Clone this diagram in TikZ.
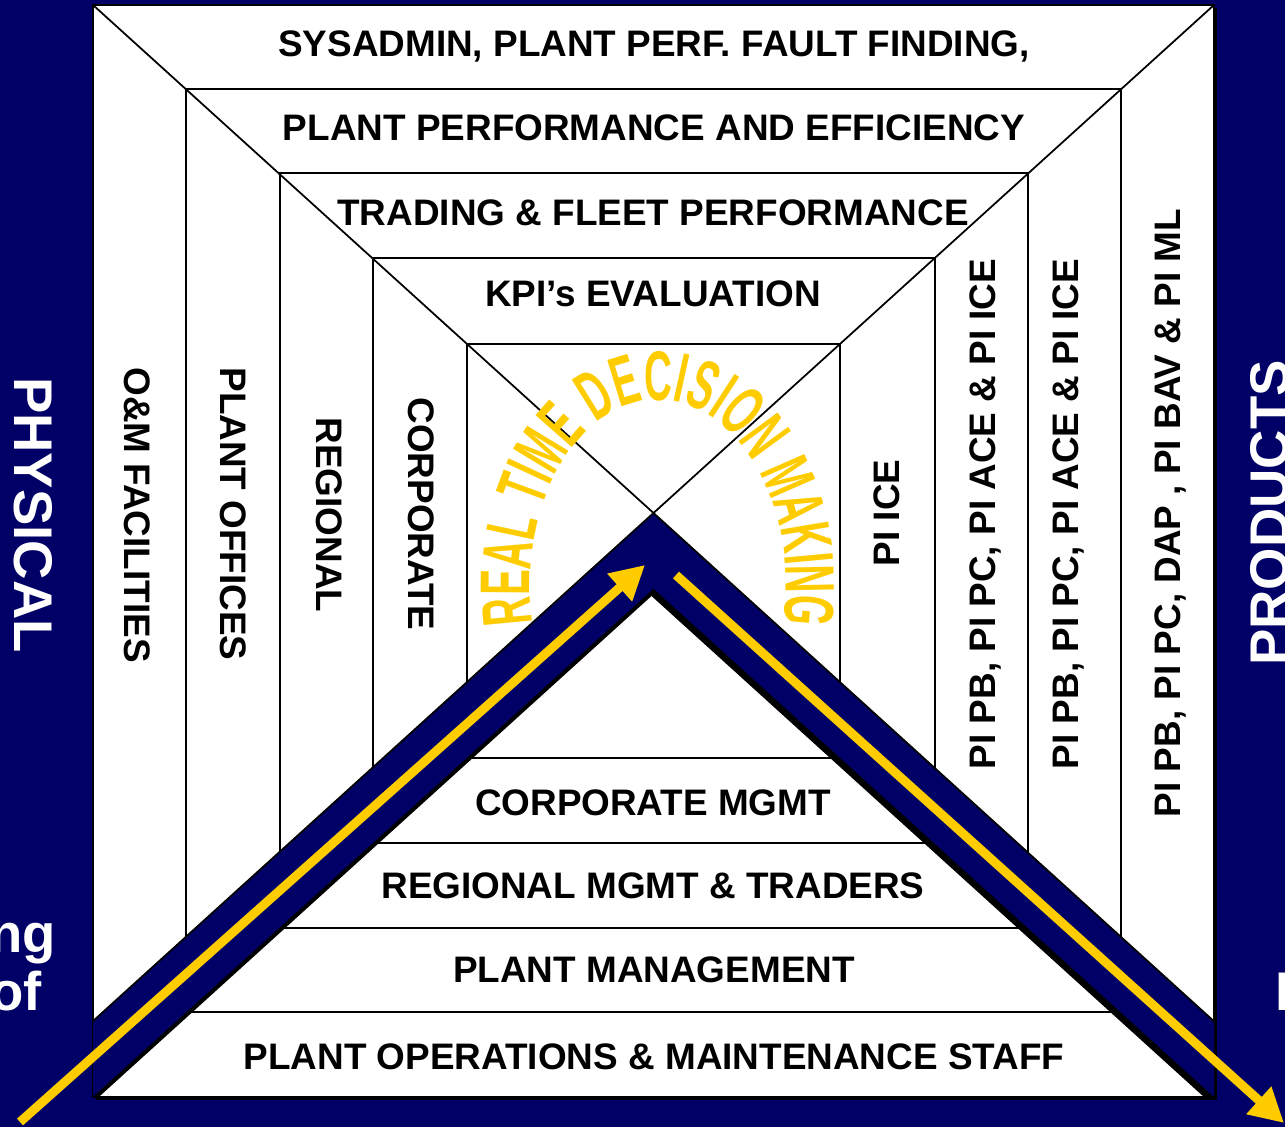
\documentclass[tikz,border=0pt]{standalone}
\usepackage{fontspec}
\setmainfont{Liberation Sans}
\newfontfamily\archfont[FakeStretch=0.55]{Liberation Sans}
\usetikzlibrary{arrows.meta, decorations.text}
\definecolor{navy}{RGB}{0,0,102}
\definecolor{gold}{RGB}{255,204,0}

\begin{document}
\begin{tikzpicture}[x=0.02cm, y=0.02cm]

    % Define styles
    \tikzstyle{frame} = [draw=black, line width=1pt, fill=white]
    \tikzstyle{band} = [font=\bfseries\fontsize{21}{24}\selectfont, text=black, inner sep=0pt]
    \tikzstyle{side} = [font=\bfseries\fontsize{31}{34}\selectfont, text=white, inner sep=0pt]
    \tikzstyle{flow} = [draw=gold, line width=0.18cm, -{Triangle[length=0.68cm, width=0.7cm]}]

    \useasboundingbox (0,0) rectangle (1285,1127);
    \fill[navy] (0,0) rectangle (1285,1127);

    % Nested frames
    \fill[black] (96,27) rectangle (1217,1119);
    \draw[frame] (93,30) rectangle (1214,1122);
    \draw[frame] (186,115) rectangle (1121,1038);
    \draw[frame] (280,199) rectangle (1028,954);
    \draw[frame] (373,284) rectangle (935,869);
    \draw[frame] (467,369) rectangle (840,783);

    % Diagonals
    \coordinate (apex) at (653.5,614);
    \coordinate (cornerL) at (93,1122);
    \coordinate (cornerR) at (1214,1122);
    \draw[line width=1pt] (cornerL) -- (apex) -- (cornerR);

    % Top bands
    \node[band] (sysadmin) at (654,1081) {SYSADMIN, PLANT PERF. FAULT FINDING,};
    \node[band] (plantPerf) at (654,999) {PLANT PERFORMANCE AND EFFICIENCY};
    \node[band] (trading) at (653,914) {TRADING \& FLEET PERFORMANCE};
    \node[band] (kpiEval) at (653,833) {KPI’s EVALUATION};

    % Bottom bands
    \node[band] (corpMgmt) at (653,324) {CORPORATE MGMT};
    \node[band] (regMgmt) at (653,241) {REGIONAL MGMT \& TRADERS};
    \node[band] (plantMgmt) at (654,157) {PLANT MANAGEMENT};
    \node[band] (opsStaff) at (654,70) {PLANT OPERATIONS \& MAINTENANCE STAFF};

    % Left bands
    \node[band, rotate=-90] (omFacilities) at (137,612) {O\&M FACILITIES};
    \node[band, rotate=-90] (plantOffices) at (233,613) {PLANT OFFICES};
    \node[band, rotate=-90] (regional) at (329,612) {REGIONAL};
    \node[band, rotate=-90] (corporate) at (421,613) {CORPORATE};

    % Right bands
    \node[band, rotate=90] (piCorp) at (887,614) {PI ICE};
    \node[band, rotate=90] (piRegional) at (985,613) {PI PB, PI PC, PI ACE \& PI ICE};
    \node[band, rotate=90] (piPlant) at (1068,613) {PI PB, PI PC, PI ACE \& PI ICE};
    \node[band, rotate=90] (piFacilities) at (1170,614) {PI PB, PI PC, DAP , PI BAV \& PI ML};

    % Outside texts
    \node[side, rotate=-90] (physical) at (33,612) {PHYSICAL};
    \node[side, rotate=90] (products) at (1270,614) {PRODUCTS};
    \node[side, anchor=base east] (ngText) at (56,175) {ng};
    \node[side, anchor=base east] (ofText) at (42,117) {of};
    \node[side, anchor=base west] (fText) at (1275,117) {F};

    % Chevron
    \begin{scope}
        \clip (93,30) rectangle (1214,1122);
        \fill[black, shift={(-2,-6)}] (653.5,614) -- (-100,-69) -- (-100,-146) -- (653.5,537) -- (1400,-140) -- (1400,-63) -- cycle;
        \filldraw[fill=navy, draw=black, line width=1pt] (653.5,614) -- (-100,-69) -- (-100,-146) -- (653.5,537) -- (1400,-140) -- (1400,-63) -- cycle;
    \end{scope}

    % Flows
    \coordinate (upTail) at (20,5);
    \coordinate (upTip) at (645,562);
    \coordinate (downTail) at (676,552);
    \coordinate (downTip) at (1284,4);
    \draw[flow] (upTail) -- (upTip);
    \draw[flow] (downTail) -- (downTip);

    % Arched title
    \path[decorate, decoration={text along path, text align=center, text color=gold,
        text={|\archfont\bfseries\fontsize{40}{40}\selectfont|REAL TIME DECISION MAKING}}]
        (537.7,478.7) arc[start angle=200, end angle=-20, x radius=2.56cm, y radius=3.7cm];

\end{tikzpicture}
\end{document}
